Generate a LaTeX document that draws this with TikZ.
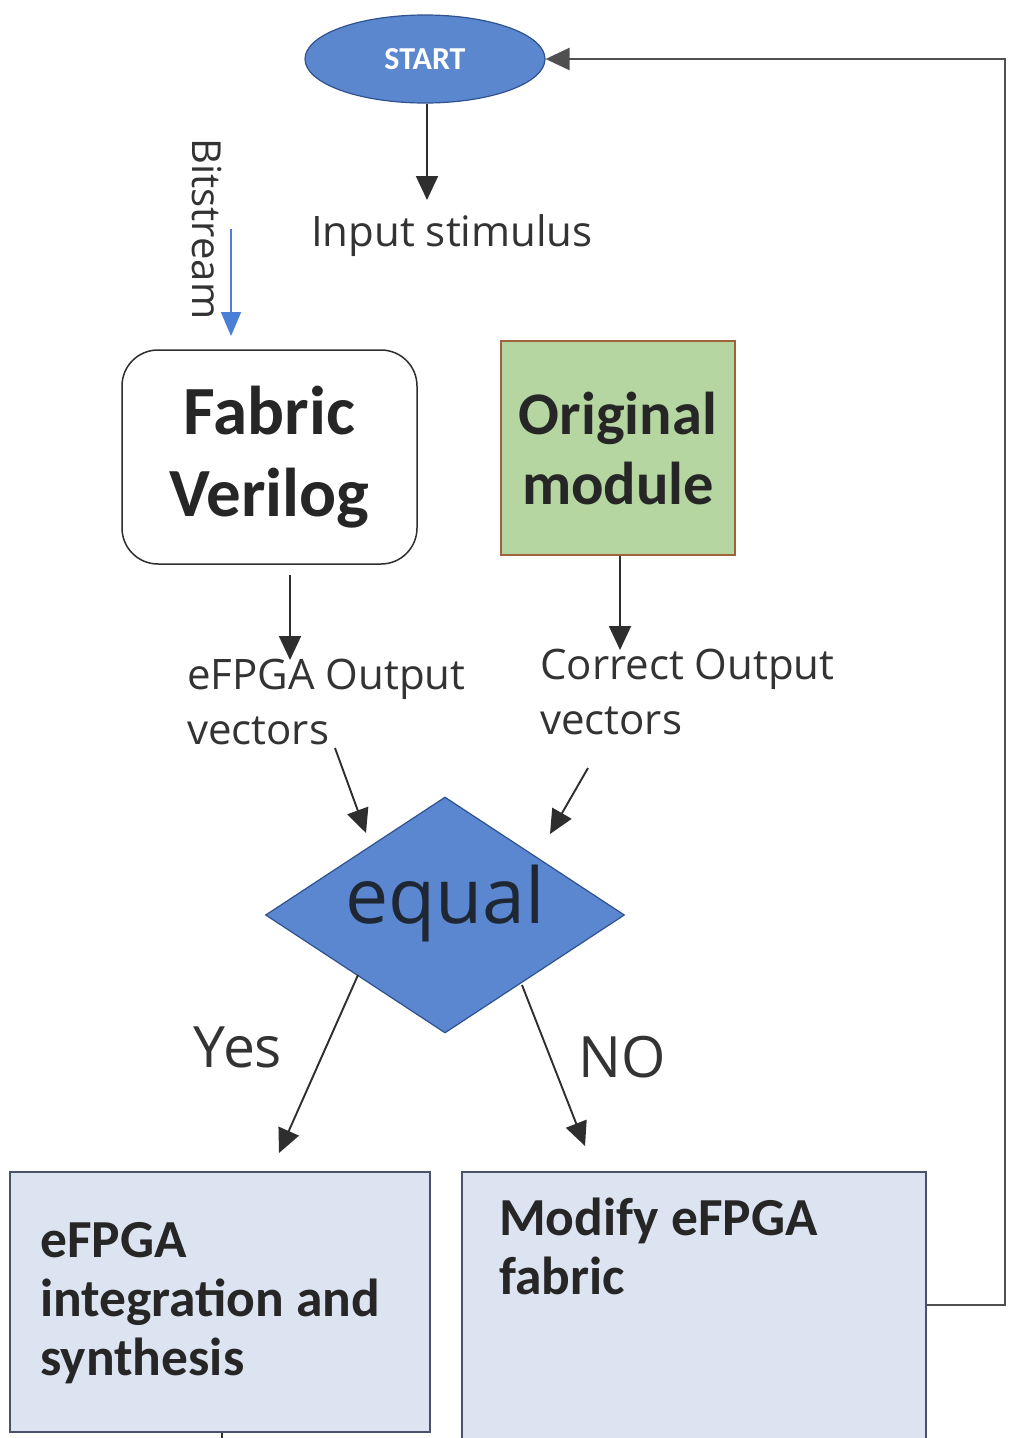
\documentclass[tikz,border=0pt]{standalone}
\usepackage{fontspec}
\setmainfont{Carlito}
\newfontfamily\osans{Open Sans}
\usetikzlibrary{shapes.geometric,arrows.meta}
\definecolor{startblue}{HTML}{5B87CE}
\definecolor{blueedge}{HTML}{2F528F}
\definecolor{diafill}{HTML}{5A87CF}
\definecolor{origgreen}{HTML}{B5D6A0}
\definecolor{origedge}{HTML}{A0623A}
\definecolor{boxfill}{HTML}{DCE3F1}
\definecolor{boxedge}{HTML}{4A5468}
\definecolor{linegray}{HTML}{2E2E2E}
\definecolor{fbgray}{HTML}{505050}
\definecolor{bitblue}{HTML}{4A7FD6}
\definecolor{txtgray}{HTML}{333333}
\definecolor{eqtext}{HTML}{1E2733}
\begin{document}
\begin{tikzpicture}[x=1pt,y=-1pt,
  conn/.style={draw=linegray, line width=1.9pt, -{Triangle[length=24pt,width=22pt]}},
  fbconn/.style={draw=fbgray, line width=2.4pt, -{Triangle[length=24pt,width=22pt]}},
  bitconn/.style={draw=bitblue, line width=1.8pt, -{Triangle[length=24pt,width=20pt]}},
  lbl/.style={text=txtgray, inner sep=0pt, font=\osans\fontsize{42}{55}\selectfont},
  bigbox/.style={draw=boxedge, fill=boxfill, line width=1.6pt, inner sep=0pt},
  boldtxt/.style={text=black!85, inner sep=0pt, font=\bfseries\fontsize{53.5}{59}\selectfont, align=left}]
\useasboundingbox[fill=white] (0,0) rectangle (1011,1438);

% START
\node[ellipse, fill=startblue, draw=blueedge, line width=1.2pt, minimum width=240pt, minimum height=88pt, inner sep=0pt,
  text=white, font=\bfseries\fontsize{32}{32}\selectfont] (start) at (425,59) {START};

% Input stimulus
\node[lbl] (input) at (452,236) {Input stimulus};
\coordinate (inTip) at (427,200);
\draw[conn] (start.south -| inTip) -- (inTip);

% Bitstream
\node[lbl, rotate=-90, font=\osans\fontsize{40}{40}\selectfont] (bits) at (207,229) {Bitstream};
\coordinate (bitA) at (231,229);
\coordinate (bitB) at (231,336);
\draw[bitconn] (bitA) -- (bitB);

% Fabric Verilog
\node[draw=linegray, line width=1.5pt, rounded corners=36pt, minimum width=295pt, minimum height=214pt,
  align=center, inner sep=0pt, font=\bfseries\fontsize{69}{82}\selectfont, text=black!85] (fabric) at (269.5,457) {Fabric\\Verilog};

% Original module
\node[draw=origedge, fill=origgreen, line width=1.5pt, minimum width=234pt, minimum height=214pt,
  align=center, inner sep=0pt, font=\bfseries\fontsize{60.5}{70}\selectfont, text=black!85] (orig) at (618,448) {Original\\module};

% output labels
\node[lbl, anchor=west, align=left] (eout) at (187,702) {eFPGA Output\\vectors};
\node[lbl, anchor=west, align=left] (cout) at (540,692) {Correct Output\\vectors};
\coordinate (eTip) at (290,660);
\coordinate (cTip) at (620,650);
\draw[conn] ([yshift=-10pt]fabric.south -| eTip) -- (eTip);
\draw[conn] (orig.south -| cTip) -- (cTip);

% equal diamond
\node[diamond, aspect=1.52, fill=diafill, draw=blueedge, line width=1.2pt, minimum width=359pt, minimum height=236pt,
  inner sep=0pt] (eq) at (445,915) {};
\node[text=eqtext, inner sep=0pt, font=\osans\fontsize{77}{77}\selectfont] (eqtxt) at (445,903) {equal};

\coordinate (e1) at (335,748);
\coordinate (e2) at (366,833);
\coordinate (c1) at (588,768);
\coordinate (c2) at (550,834);
\draw[conn] (e1) -- (e2);
\draw[conn] (c1) -- (c2);

% Yes / NO
\coordinate (y1) at (358,975);
\coordinate (y2) at (279,1153);
\coordinate (n1) at (522,985);
\coordinate (n2) at (585,1146);
\draw[conn] (y1) -- (y2);
\draw[conn] (n1) -- (n2);
\node[lbl, font=\osans\fontsize{57}{57}\selectfont] (yes) at (238,1047) {Yes};
\node[lbl, font=\osans\fontsize{57}{57}\selectfont] (no) at (622,1057) {NO};

% bottom boxes
\node[bigbox, minimum width=420pt, minimum height=260pt] (syn) at (220,1302) {};
\node[boldtxt, anchor=north west] (syntxt) at (40,1222) {eFPGA\\integration and\\synthesis};
\node[bigbox, minimum width=464pt, minimum height=270pt] (mod) at (694,1307) {};
\node[boldtxt, anchor=north west] (modtxt) at (499,1198) {Modify eFPGA\\fabric};

% stub below left box
\coordinate (stub) at (222,1438);
\draw[draw=linegray, line width=1.6pt] (syn.south -| stub) -- (stub);

% feedback loop
\coordinate (fbC) at (1005,1305);
\draw[fbconn] (mod.east |- fbC) -- (fbC) |- (start.east);
\end{tikzpicture}
\end{document}
